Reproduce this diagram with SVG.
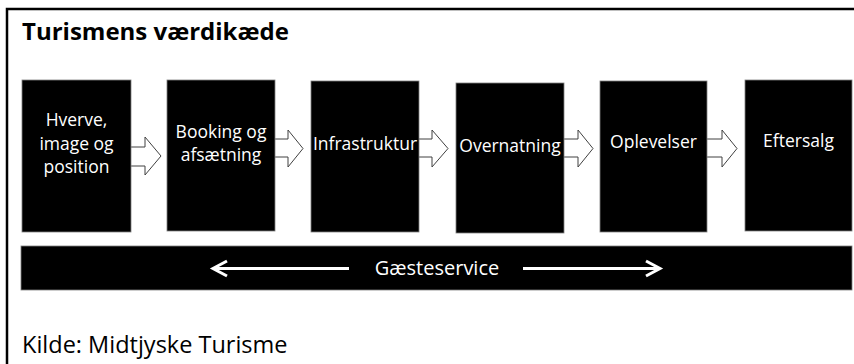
<svg xmlns="http://www.w3.org/2000/svg" width="854" height="364" viewBox="0 0 854 364">
<style>
.box{fill:#000;stroke:#7f7f7f;stroke-width:0.8}
.lbl{font-family:"Open Sans","Liberation Sans",sans-serif;font-size:17.5px;fill:#fff;text-anchor:middle}
.blk{fill:#fff;stroke:#404040;stroke-width:1}
.title{font-family:"Open Sans","Liberation Sans",sans-serif;font-size:24px;font-weight:bold;fill:#000}
.src{font-family:"Open Sans","Liberation Sans",sans-serif;font-size:23.5px;fill:#000}
.gs{font-family:"Open Sans","Liberation Sans",sans-serif;font-size:20px;fill:#fff;text-anchor:middle}
.wl{stroke:#fff;stroke-width:3;fill:none}
</style>
<rect x="0" y="0" width="854" height="364" fill="#fff"/>
<rect x="7" y="9" width="860" height="370" fill="none" stroke="#000" stroke-width="2.5"/>
<text class="title" x="22" y="40">Turismens værdikæde</text>
<g id="connectors">
<polygon class="blk" points="128,147 145,147 145,137 161,156 145,175 145,166 128,166"/>
<polygon class="blk" points="272,139 288,139 288,130 303,148.5 288,167 288,157 272,157"/>
<polygon class="blk" points="416,139 432,139 432,130 448,148.5 432,167 432,157 416,157"/>
<polygon class="blk" points="561,139 578,139 578,130 593,148.5 578,167 578,157 561,157"/>
<polygon class="blk" points="704,139 722,139 722,130 737,148.5 722,167 722,157 704,157"/>
</g>
<g id="n1"><rect class="box" x="22" y="80" width="109" height="152"/>
<text class="lbl" x="76.5" y="126">Hverve,</text><text class="lbl" x="76.5" y="149.5">image og</text><text class="lbl" x="76.5" y="173">position</text></g>
<g id="n2"><rect class="box" x="167" y="80" width="108" height="151"/>
<text class="lbl" x="221" y="138">Booking og</text><text class="lbl" x="221" y="161">afsætning</text></g>
<g id="n3"><rect class="box" x="311" y="81" width="108" height="151"/>
<text class="lbl" x="365" y="150">Infrastruktur</text></g>
<g id="n4"><rect class="box" x="456" y="83" width="108" height="150"/>
<text class="lbl" x="510" y="152">Overnatning</text></g>
<g id="n5"><rect class="box" x="600" y="81" width="107" height="151"/>
<text class="lbl" x="653.5" y="148">Oplevelser</text></g>
<g id="n6"><rect class="box" x="745" y="80" width="107" height="151"/>
<text class="lbl" x="798.5" y="147">Eftersalg</text></g>
<g id="bar"><rect class="box" x="21" y="246" width="831" height="44"/>
<text class="gs" x="437" y="275">Gæsteservice</text>
<line class="wl" x1="213" y1="268.5" x2="349" y2="268.5"/>
<polyline class="wl" points="227,261 213,268.5 227,276"/>
<line class="wl" x1="523" y1="268.5" x2="659" y2="268.5"/>
<polyline class="wl" points="646,261 660,268.5 646,276"/>
</g>
<text class="src" x="22" y="353">Kilde: Midtjyske Turisme</text>
</svg>
